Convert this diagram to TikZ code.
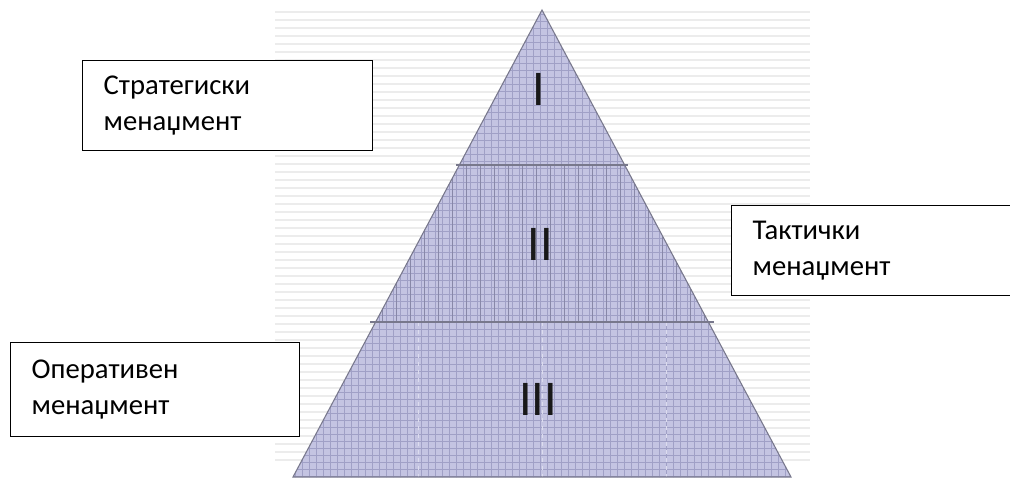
\documentclass[tikz,border=0pt]{standalone}
\usepackage{fontspec}
\setmainfont{Carlito}
\usepackage{xcolor}
\usetikzlibrary{positioning}
\definecolor{pyrfill}{RGB}{196,196,226}
\definecolor{pyrgrid}{RGB}{160,160,198}
\definecolor{pyrline}{RGB}{120,120,140}
\definecolor{stripe}{RGB}{236,236,236}
\tikzset{
  lvlbox/.style = {rectangle, draw=black, line width=1pt, fill=white,
                   anchor=north west, align=left, inner xsep=15.75pt,
                   minimum height=67.5pt,
                   font=\fontsize{21.5}{27}\selectfont},
  numeral/.style = {font=\fontsize{37.5}{38}\selectfont, text=black!90},
}

\begin{document}
\begin{tikzpicture}[x=0.75pt, y=-0.75pt]
  \useasboundingbox (0,0) rectangle (1010,481);

  % striped background
  \foreach \yy in {12,20,...,464}
    \draw[stripe, line width=2pt] (275,\yy) -- (810,\yy);

  % pyramid
  \coordinate (apex) at (542,10);
  \coordinate (bl) at (293,477);
  \coordinate (br) at (791,477);
  \fill[pyrfill] (apex) -- (bl) -- (br) -- cycle;
  \begin{scope}
    \clip (apex) -- (bl) -- (br) -- cycle;
    \foreach \yy in {14,21,...,477}
      \draw[pyrgrid, line width=0.4pt] (280,\yy) -- (800,\yy);
    \foreach \xx in {295,302,...,790}
      \draw[pyrgrid, line width=0.4pt] (\xx,10) -- (\xx,478);
    \foreach \xx in {298,312,...,790}
      \draw[pyrgrid!85!black, line width=0.5pt] (\xx,165) -- (\xx,322);
    \foreach \xx in {418,542,666}
      \draw[white!40!pyrfill, line width=0.6pt, dashed] (\xx,322) -- (\xx,478);
  \end{scope}
  \draw[pyrline, line width=0.8pt] (apex) -- (bl) -- (br) -- cycle;
  \draw[pyrline, line width=1.2pt] (456,165) -- (628,165);
  \draw[pyrline, line width=1.2pt] (370,322) -- (714,322);

  \node[numeral] (lvlone) at (539,89) {I};
  \node[numeral] (lvltwo) at (540,244) {II};
  \node[numeral] (lvlthree) at (538,399) {III};

  % labels
  \node[lvlbox, text width=186pt] (strat) at (82,60)
    {Стратегиски\\менаџмент};
  \node[lvlbox, text width=179.25pt] (takt) at (731,205)
    {Тактички\\менаџмент};
  \node[lvlbox, text width=185.25pt, minimum height=70.5pt] (oper) at (10,342)
    {Оперативен\\менаџмент};
\end{tikzpicture}
\end{document}
